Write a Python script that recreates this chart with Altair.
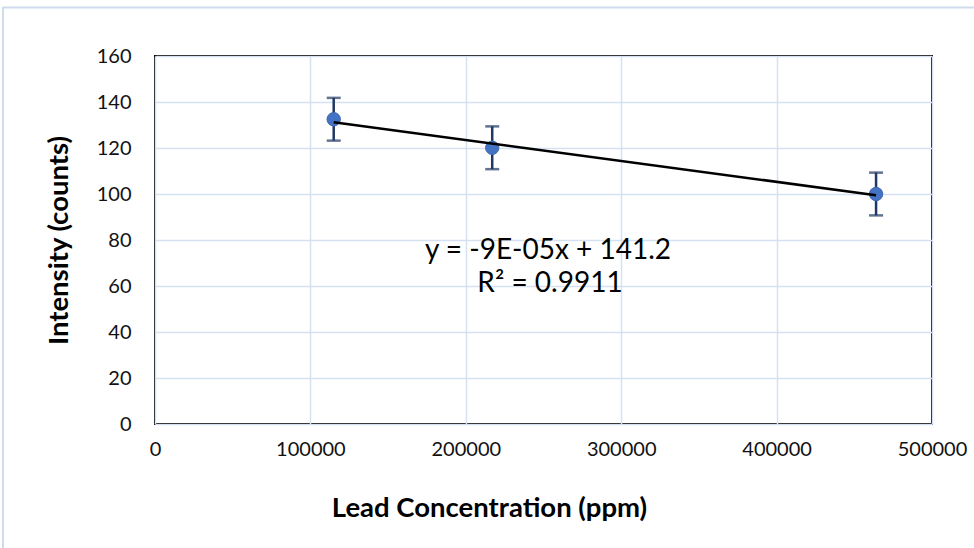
import altair as alt
import pandas as pd

# Data
conc = [115000, 217000, 464000]
intensity = [132.5, 120.1, 100.0]
err = [9.3, 9.3, 9.3]

x_ticks = [0, 100000, 200000, 300000, 400000, 500000]
y_ticks = [0, 20, 40, 60, 80, 100, 120, 140, 160]

eq_lines = ["y = -9E-05x + 141.2", "R\u00b2 = 0.9911"]

df = pd.DataFrame({"conc": conc, "intensity": intensity, "err": err})

FONT = "Lato"
GRID = "#d5e1f1"

x_enc = alt.X(
    "conc:Q",
    scale=alt.Scale(domain=[0, 500000], nice=False, zero=True),
    axis=alt.Axis(
        values=x_ticks, format="d", title="Lead Concentration (ppm)",
        grid=True, gridColor=GRID, gridWidth=1.5,
        domain=False, ticks=False, tickSize=0,
        labelFlush=False, labelOverlap=False,
        labelFont=FONT, labelFontSize=20, labelColor="#111111", labelPadding=15,
        titleFont=FONT, titleFontSize=27.5, titleFontWeight="bold", titleColor="#000000",
        titleX=334, titleY=92, titleBaseline="alphabetic", titleAnchor="start",
        titleAlign="center",
    ),
)
y_enc = alt.Y(
    "intensity:Q",
    scale=alt.Scale(domain=[0, 160], nice=False, zero=True),
    axis=alt.Axis(
        values=y_ticks, title="Intensity (counts)",
        grid=True, gridColor=GRID, gridWidth=1.5,
        domain=False, ticks=False, tickSize=0,
        labelFlush=False, labelOverlap=False,
        labelFont=FONT, labelFontSize=20, labelColor="#111111", labelPadding=24,
        titleFont=FONT, titleFontSize=27.5, titleFontWeight="bold", titleColor="#000000",
        titleX=-88, titleY=184, titleBaseline="alphabetic", titleAnchor="start",
        titleAlign="center", titleAngle=270,
    ),
)

base = alt.Chart(df)

bars = base.transform_calculate(
    lo="datum.intensity - datum.err", hi="datum.intensity + datum.err"
)

err_rule = bars.mark_rule(color="#1f3864", strokeWidth=2.5).encode(
    x=x_enc, y=alt.Y("lo:Q"), y2="hi:Q"
)
cap_lo = bars.mark_tick(color="#1f3864", orient="horizontal", size=14, thickness=2.5).encode(
    x="conc:Q", y="lo:Q"
)
cap_hi = bars.mark_tick(color="#1f3864", orient="horizontal", size=14, thickness=2.5).encode(
    x="conc:Q", y="hi:Q"
)

points = base.mark_point(
    filled=True, shape="circle", size=180, color="#4472c4", opacity=1,
    stroke="#3f69b0", strokeWidth=1,
).encode(x="conc:Q", y=y_enc)

trend = base.transform_regression("conc", "intensity").mark_line(
    color="#000000", strokeWidth=2.5
).encode(x="conc:Q", y="intensity:Q")

eq1 = alt.Chart(pd.DataFrame({"t": [eq_lines[0]]})).mark_text(
    font=FONT, fontSize=28, color="#000000", align="center", baseline="alphabetic"
).encode(x=alt.value(393), y=alt.value(202.5), text="t:N")
eq2 = alt.Chart(pd.DataFrame({"t": [eq_lines[1]]})).mark_text(
    font=FONT, fontSize=28, color="#000000", align="center", baseline="alphabetic"
).encode(x=alt.value(395), y=alt.value(235.7), text="t:N")

# outer chart-area border (light blue), as in the spreadsheet frame
border_top = alt.Chart(pd.DataFrame({"a": [0]})).mark_rule(color="#cfdcee", strokeWidth=2).encode(
    x=alt.value(-152), x2=alt.value(830), y=alt.value(-48.5)
)
border_left = alt.Chart(pd.DataFrame({"a": [0]})).mark_rule(color="#cfdcee", strokeWidth=2).encode(
    x=alt.value(-152), y=alt.value(-49), y2=alt.value(500)
)

chart = alt.layer(
    border_top, border_left, err_rule, cap_lo, cap_hi, points, trend, eq1, eq2
).properties(
    width=777, height=368,
    padding={"left": 155, "top": 56, "right": 42, "bottom": 124},
    autosize=alt.AutoSizeParams(type="none"),
    background="#ffffff",
).configure_view(
    stroke="#000000", strokeWidth=2
)

chart.save("out.html", embed_options={"renderer": "svg", "actions": False})
